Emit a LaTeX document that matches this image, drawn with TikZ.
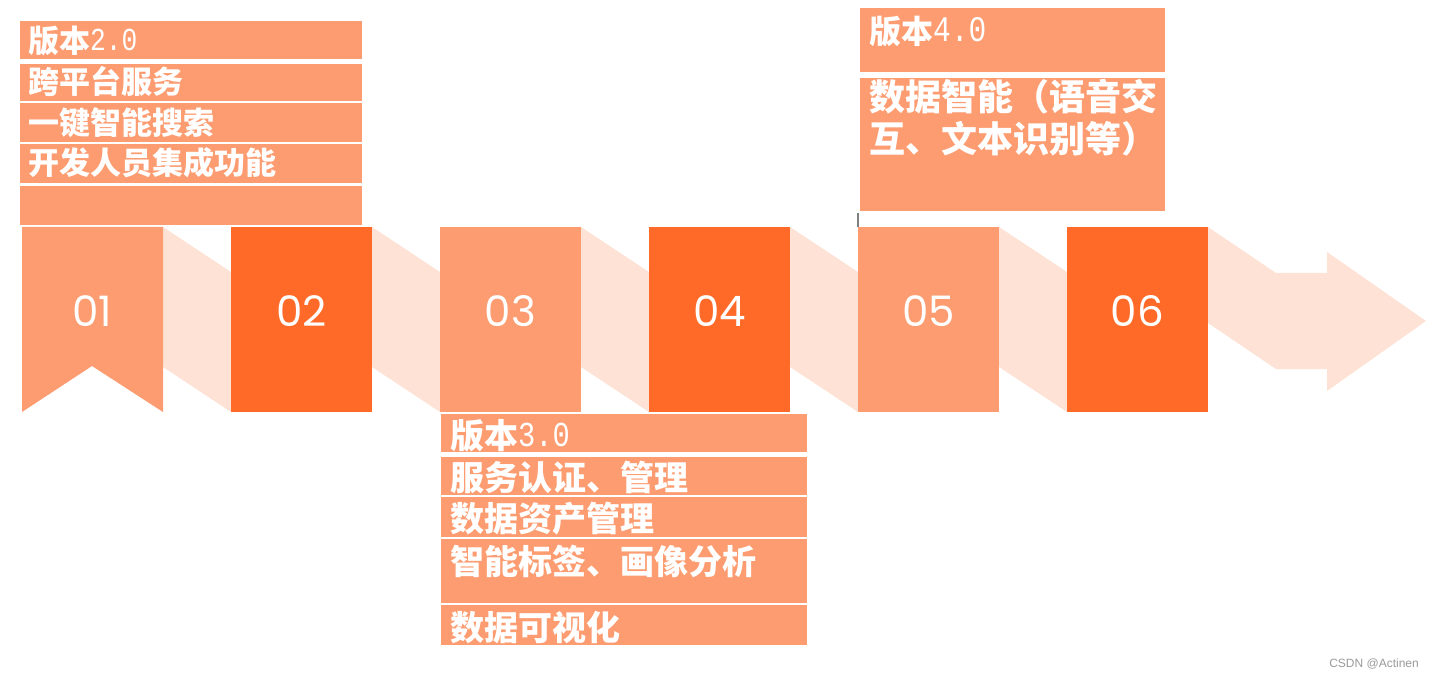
\documentclass[tikz,border=0pt]{standalone}
\usepackage{fontspec}
\setmainfont{Liberation Sans}
\newfontfamily\cjk{Noto Sans CJK SC}
\newfontfamily\mono{Liberation Mono}[FakeStretch=0.82]
\newfontfamily\ziffer{Poppins}
\usetikzlibrary{positioning}
\definecolor{qianse}{RGB}{253,156,112}
\definecolor{shense}{RGB}{255,106,40}
\definecolor{daise}{RGB}{253,226,213}
\newcommand{\banhao}[2]{\raisebox{2pt}{\mono\mdseries\fontsize{#1}{#1}\selectfont #2}}

\begin{document}
\begin{tikzpicture}[x=1pt,y=-1pt,
    kuai/.style={minimum width=141pt,minimum height=185pt,inner sep=0,anchor=north west},
    hao/.style={text=white,inner sep=0,font=\ziffer\fontsize{42}{42}\selectfont},
    wenzi/.style={text=white,anchor=base west,inner sep=0,font=\cjk\bfseries\fontsize{#1}{#1}\selectfont}]
  \useasboundingbox (0,0) rectangle (1434,676);

  % 浅色的连接带和末端箭头
  \foreach \i in {0,...,4}
    \fill[daise] ({163+209*\i},227) -- ++(68,45) -- ++(0,140) -- ++(-68,-45) -- cycle;
  \fill[daise] (1208,227) -- (1276,273) -- (1327,273) -- (1327,252) -- (1426,321)
    -- (1327,391) -- (1327,369) -- (1276,369) -- (1208,323) -- cycle;

  % 六个色块, 01 是书签形
  \fill[qianse] (22,227) -- (163,227) -- (163,412) -- (92,366) -- (22,412) -- cycle;
  \foreach \i/\farbe in {2/shense,3/qianse,4/shense,5/qianse,6/shense}
    \node[kuai,fill=\farbe] (k\i) at ({22+209*(\i-1)},227) {};
  \node[hao] (n1) at (92.5,311) {01};
  \foreach \i in {2,...,6}
    \node[hao] (n\i) at ({92.5+209*(\i-1)},311) {0\i};

  % 版本 2.0
  \foreach \y/\h in {21/38,64/37,103/39,144/39,186/39}
    \fill[qianse] (20,\y) rectangle ++(342,\h);
  \node[wenzi=31] (v2a) at (28,53) {版本\banhao{32}{2.0}};
  \node[wenzi=31] (v2b) at (28,94) {跨平台服务};
  \node[wenzi=31] (v2c) at (28,135) {一键智能搜索};
  \node[wenzi=31] (v2d) at (28,175) {开发人员集成功能};

  % 版本 3.0
  \foreach \y/\h in {414/38,457/38,497/40,539/64,605/40}
    \fill[qianse] (441,\y) rectangle ++(366,\h);
  \node[wenzi=34] (v3a) at (450,448) {版本\banhao{35}{3.0}};
  \node[wenzi=34] (v3b) at (450,490) {服务认证、管理};
  \node[wenzi=34] (v3c) at (450,531) {数据资产管理};
  \node[wenzi=34] (v3d) at (450,574) {智能标签、画像分析};
  \node[wenzi=34] (v3e) at (450,640) {数据可视化};

  % 版本 4.0
  \fill[qianse] (860,8) rectangle (1165,72);
  \fill[qianse] (860,78) rectangle (1165,211);
  \node[wenzi=32] (v4a) at (869,44) {版本\banhao{36}{4.0}};
  \node[wenzi=36] (v4b) at (869,111) {数据智能（语音交};
  \node[wenzi=36] (v4c) at (869,153) {互、文本识别等）};
  \draw[gray,line width=1.5pt] (858,213) -- (858,227);

  \node[text=gray!80,inner sep=0,anchor=base east,font=\fontsize{12}{12}\selectfont]
    (shuiyin) at (1419,667) {CSDN @Actinen};
\end{tikzpicture}
\end{document}
